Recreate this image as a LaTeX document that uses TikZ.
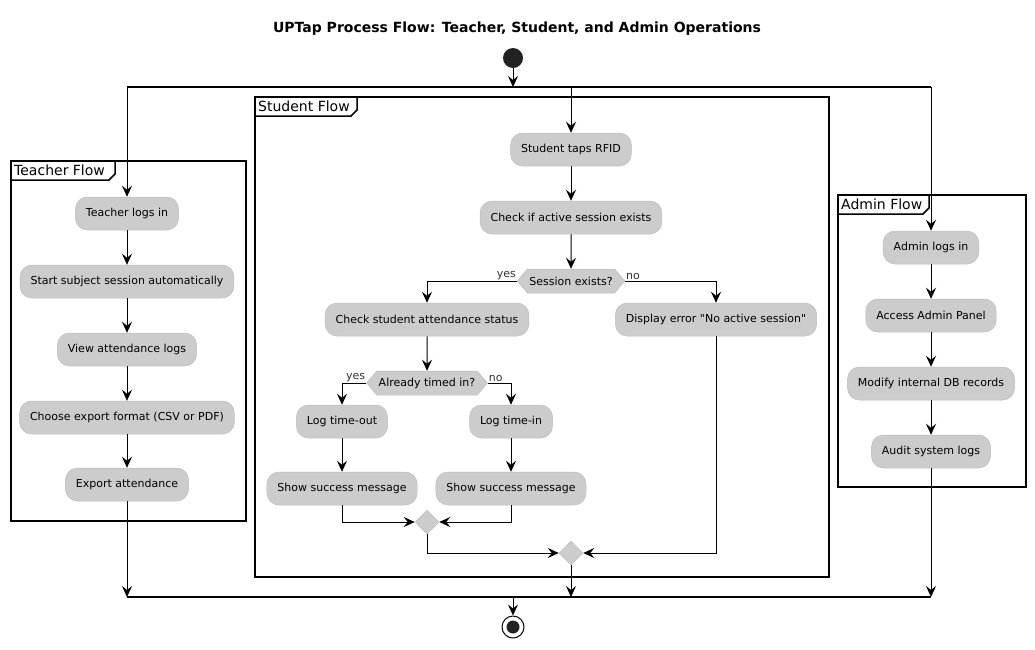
\documentclass[tikz,border=0pt]{standalone}
\usepackage{fontspec}
\setmainfont{DejaVu Sans}[Ligatures=TeXOff]
\usetikzlibrary{arrows.meta,shapes.geometric,shapes.symbols}
\definecolor{actfill}{HTML}{CCCCCC}
\definecolor{actline}{HTML}{BDBDBD}
\definecolor{dark}{HTML}{222222}
\definecolor{lblc}{HTML}{333333}
\tikzset{
  act/.style={draw=actline, line width=0.5pt, fill=actfill, rounded corners=12pt,
    minimum height=33pt, inner xsep=10.5pt, inner ysep=0pt,
    font=\fontsize{11}{13}\selectfont, text=black},
  dec/.style={shape=signal, signal to=east and west, signal pointer angle=100,
    draw=actline, line width=0.5pt, fill=actfill, minimum height=24pt,
    inner xsep=2pt, inner ysep=0pt, font=\fontsize{11}{13}\selectfont},
  merge/.style={shape=diamond, fill=actfill, draw=actline, line width=0.5pt,
    minimum size=24pt, inner sep=0pt},
  arr/.style={draw=black, line width=1pt, -{Stealth[length=11pt,width=10pt,inset=4pt]}},
  conn/.style={draw=black, line width=1pt},
  bar/.style={draw=black, line width=1.6pt},
  frm/.style={draw=black, line width=1.5pt},
  frmlbl/.style={anchor=west, inner sep=0pt, font=\fontsize{14}{16}\selectfont},
  lbl/.style={inner sep=1pt, font=\fontsize{11}{13}\selectfont, text=lblc}
}
\begin{document}
\begin{tikzpicture}[x=1pt,y=-1pt]
\useasboundingbox (0,0) rectangle (1035,649);
\fill[white] (0,0) rectangle (1035,649);

% title
\node[font=\bfseries\fontsize{14}{16}\selectfont] (title) at (517,29) {UPTap Process Flow: Teacher, Student, and Admin Operations};

% frames
\draw[frm] (11,161) rectangle (246,521);
\draw[frm] (11,180) -- (109,180) -- (115,174) -- (115,161);
\node[frmlbl] (tfl) at (14,170.5) {Teacher Flow};

\draw[frm] (255,97) rectangle (829,577);
\draw[frm] (255,116) -- (351,116) -- (357,110) -- (357,97);
\node[frmlbl] (sfl) at (258,106.5) {Student Flow};

\draw[frm] (838,195) rectangle (1026,487);
\draw[frm] (838,214) -- (923,214) -- (929,208) -- (929,195);
\node[frmlbl] (afl) at (841,204.5) {Admin Flow};

% start / end
\node[circle, fill=dark, minimum size=20pt, inner sep=0pt] (start) at (513,58) {};
\node[circle, draw=black, fill=white, line width=1pt, minimum size=22pt, inner sep=0pt] (end) at (513,627) {};
\node[circle, fill=dark, minimum size=13pt, inner sep=0pt] (endin) at (513,627) {};

% fork / join bars
\coordinate (fk) at (513,87);
\coordinate (fkL) at (127,87);
\coordinate (fkS) at (571,87);
\coordinate (fkR) at (931,87);
\coordinate (jn) at (513,597);
\coordinate (jL) at (127,597);
\coordinate (jS) at (571,597);
\coordinate (jR) at (931,597);
\draw[bar] (fkL) -- (fkR);
\draw[bar] (jL) -- (jR);

% teacher
\node[act] (T1) at (127,213.5) {Teacher logs in};
\node[act] (T2) at (127,281.5) {Start subject session automatically};
\node[act] (T3) at (127,349.5) {View attendance logs};
\node[act] (T4) at (127,417.5) {Choose export format (CSV or PDF)};
\node[act] (T5) at (127,484.5) {Export attendance};

% student
\node[act] (S1) at (571,149.5) {Student taps RFID};
\node[act] (S2) at (571,217.5) {Check if active session exists};
\node[dec] (D1) at (571,281) {Session exists?};
\node[act] (S3) at (427,319.5) {Check student attendance status};
\node[act] (E) at (716,319.5) {Display error "No active session"};
\node[dec] (D2) at (427,383) {Already timed in?};
\node[act] (S4) at (342,421.5) {Log time-out};
\node[act] (S5) at (511,421.5) {Log time-in};
\node[act] (S6) at (342,488.5) {Show success message};
\node[act] (S7) at (511,488.5) {Show success message};
\node[merge] (M1) at (427,522) {};
\node[merge] (M2) at (571,553) {};

% admin
\node[act] (A1) at (931,247.5) {Admin logs in};
\node[act] (A2) at (931,315.5) {Access Admin Panel};
\node[act] (A3) at (931,383.5) {Modify internal DB records};
\node[act] (A4) at (931,451.5) {Audit system logs};

% connectors
\draw[arr] (start) -- (fk);
\draw[arr] (fkL) -- (T1);
\draw[arr] (fkS) -- (S1);
\draw[arr] (fkR) -- (A1);

\draw[arr] (T1) -- (T2);
\draw[arr] (T2) -- (T3);
\draw[arr] (T3) -- (T4);
\draw[arr] (T4) -- (T5);
\draw[arr] (T5) -- (jL);

\draw[arr] (S1) -- (S2);
\draw[arr] (S2) -- (D1);
\draw[arr] (D1.west) -| (S3);
\node[lbl, anchor=south east] (y1) at (D1.west) {yes};
\draw[arr] (D1.east) -| (E);
\node[lbl, anchor=south west] (n1) at (D1.east) {no};
\draw[arr] (S3) -- (D2);
\draw[arr] (D2.west) -| (S4);
\node[lbl, anchor=south east] (y2) at (D2.west) {yes};
\draw[arr] (D2.east) -| (S5);
\node[lbl, anchor=south west] (n2) at (D2.east) {no};
\draw[arr] (S4) -- (S6);
\draw[arr] (S5) -- (S7);
\draw[arr] (S6) |- (M1);
\draw[arr] (S7) |- (M1);
\draw[arr] (M1) |- (M2);
\draw[arr] (E) |- (M2);
\draw[arr] (M2) -- (jS);

\draw[arr] (A1) -- (A2);
\draw[arr] (A2) -- (A3);
\draw[arr] (A3) -- (A4);
\draw[arr] (A4) -- (jR);

\draw[arr] (jn) -- (end);
\end{tikzpicture}
\end{document}
